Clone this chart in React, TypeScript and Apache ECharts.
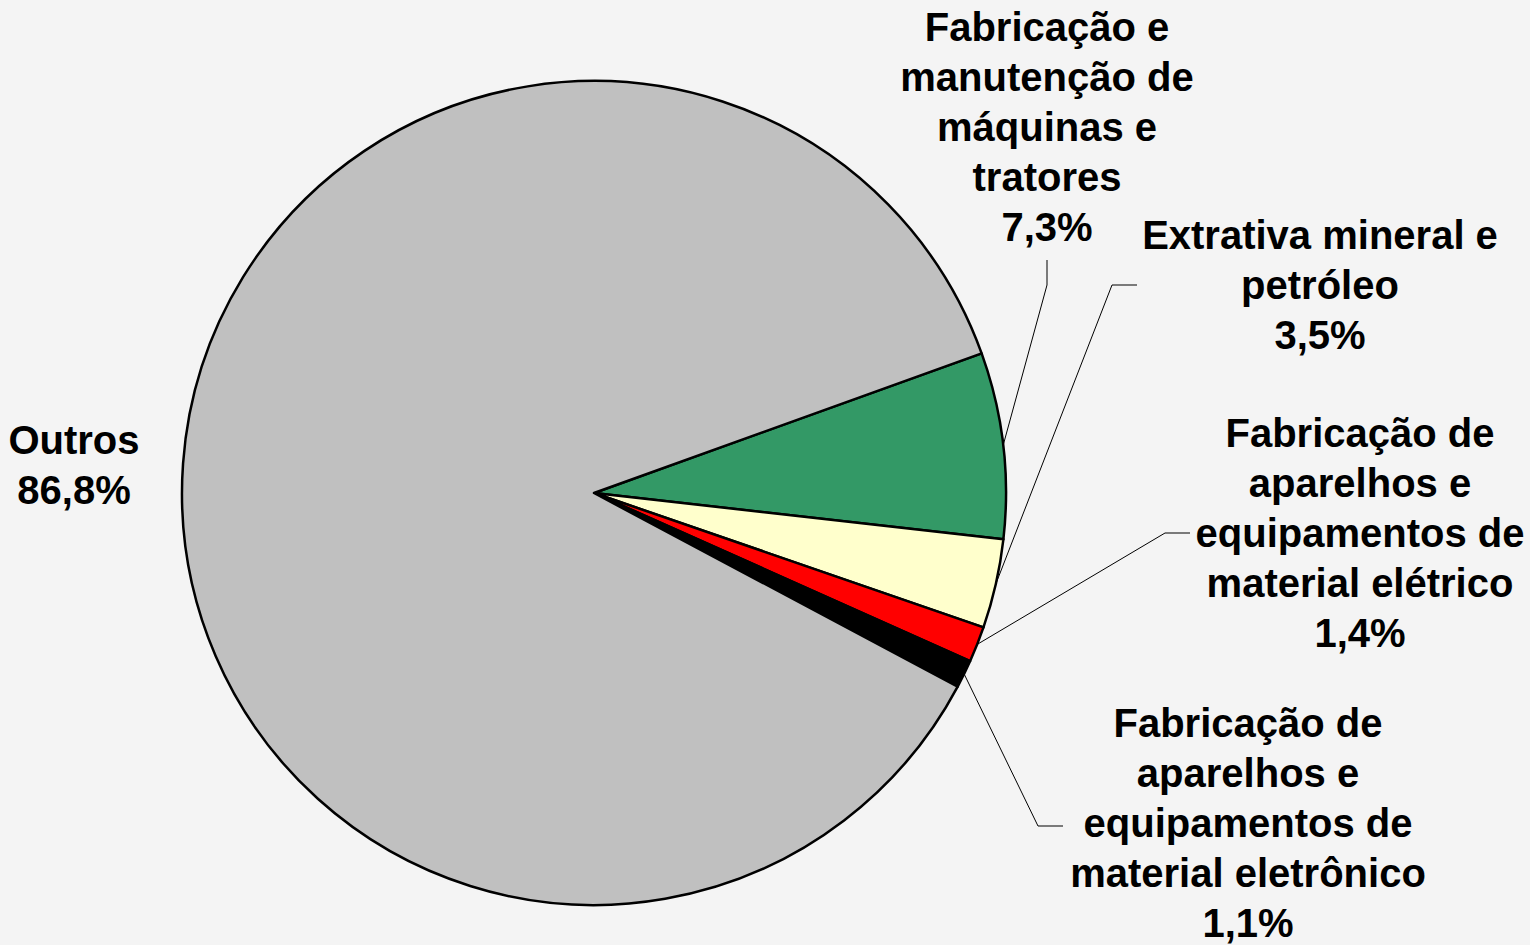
import React, { useEffect, useRef } from "react";
import * as echarts from "echarts";

const categories = [
  "Fabricação e\nmanutenção de\nmáquinas e\ntratores",
  "Extrativa mineral e\npetróleo",
  "Fabricação de\naparelhos e\nequipamentos de\nmaterial elétrico",
  "Fabricação de\naparelhos e\nequipamentos de\nmaterial eletrônico",
  "Outros",
];
const values = [7.3, 3.5, 1.4, 1.1, 86.8];
const colors = ["#339966", "#FFFFCC", "#FF0000", "#000000", "#C0C0C0"];

// layout (styles/positions, not data)
const CX = 594;
const CY = 493;
const R = 412;
const START_ANGLE = 19.8;
const labelCenters: [number, number][] = [
  [1047, 127],
  [1320, 285],
  [1360, 533],
  [1248, 823],
  [74, 465],
];
const labelElbows: ([number, number][] | null)[] = [
  [[1047, 285], [1047, 260]],
  [[1112, 285], [1137, 285]],
  [[1165, 533], [1190, 533]],
  [[1038, 826], [1063, 826]],
  null,
];

function fmt(v: number) {
  return v.toFixed(1).replace(".", ",") + "%";
}

export default function App() {
  const ref = useRef<HTMLDivElement>(null);
  useEffect(() => {
    if (!ref.current) return;
    const chart = echarts.init(ref.current, undefined, { renderer: "svg" });
    const total = values.reduce((a, b) => a + b, 0);
    const edges: [number, number][] = [];
    let cum = 0;
    values.forEach((v) => {
      const mid = ((START_ANGLE - ((cum + v / 2) / total) * 360) * Math.PI) / 180;
      edges.push([CX + R * Math.cos(mid), CY - R * Math.sin(mid)]);
      cum += v;
    });
    chart.setOption({
      animation: false,
      backgroundColor: "#F4F4F4",
      series: [
        {
          type: "pie",
          center: [CX, CY],
          radius: [0, R],
          startAngle: START_ANGLE,
          clockwise: true,
          avoidLabelOverlap: false,
          data: values.map((v, i) => ({
            name: categories[i],
            value: v,
            itemStyle: { color: colors[i] },
            labelLine: { show: labelElbows[i] !== null },
          })),
          itemStyle: { borderColor: "#000000", borderWidth: 2.5 },
          emphasis: { disabled: true },
          label: {
            show: true,
            position: "outside",
            formatter: (p: any) => `${p.name}\n${fmt(p.value)}`,
            fontFamily: "Arial, 'Liberation Sans', sans-serif",
            fontWeight: "bold",
            fontSize: 40,
            lineHeight: 50,
            color: "#000000",
            align: "center",
          },
          labelLine: {
            show: true,
            lineStyle: { color: "#000000", width: 1 },
          },
          labelLayout: (params: any) => {
            const i = params.dataIndex;
            const [x, y] = labelCenters[i];
            const res: any = { x, y, align: "center", verticalAlign: "middle" };
            const elb = labelElbows[i];
            if (elb) res.labelLinePoints = [edges[i], elb[0], elb[1]];
            return res;
          },
        },
      ],
    });
    return () => chart.dispose();
  }, []);
  return (
    <div
      ref={ref}
      style={{ position: "fixed", left: 0, top: 0, width: 1530, height: 945 }}
    />
  );
}
